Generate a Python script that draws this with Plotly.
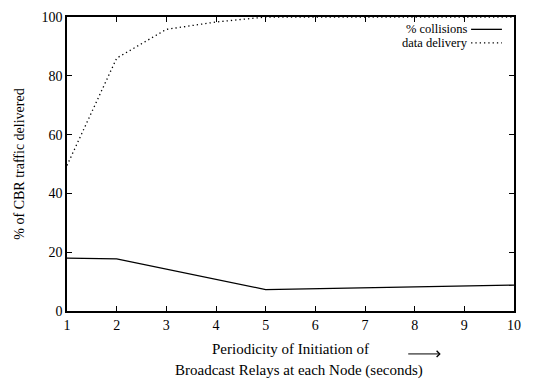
import plotly.graph_objects as go

# Periodicity of broadcast relay initiation (seconds)
delivery_x = [1, 2, 3, 4, 5, 6, 7, 8, 9, 10]
delivery_pct = [49.5, 86.0, 95.8, 98.3, 100, 100, 100, 100, 100, 100]

collision_x = [1, 2, 5, 10]
collision_pct = [18.0, 17.7, 7.3, 8.8]

x_ticks = [1, 2, 3, 4, 5, 6, 7, 8, 9, 10]
y_ticks = [0, 20, 40, 60, 80, 100]

FONT = "Liberation Serif"

fig = go.Figure()
fig.add_trace(go.Scatter(x=collision_x, y=collision_pct, mode="lines",
                         line=dict(color="black", width=1.3),
                         name="% collisions", showlegend=False))
fig.add_trace(go.Scatter(x=delivery_x, y=delivery_pct, mode="lines",
                         line=dict(color="black", width=1.3, dash="1.3px,3px"),
                         name="data delivery", showlegend=False))

axis_common = dict(showgrid=False, zeroline=False, showline=True, mirror="allticks",
                   linecolor="black", linewidth=1.5, ticks="inside", ticklen=5,
                   tickcolor="black", tickwidth=1,
                   tickfont=dict(family=FONT, size=14, color="black"))

fig.update_xaxes(range=[1, 10], tickvals=x_ticks, **axis_common)
fig.update_yaxes(range=[0, 100], tickvals=y_ticks,
                 title=dict(text="% of CBR traffic delivered",
                            font=dict(family=FONT, size=14, color="black"),
                            standoff=14),
                 **axis_common)

# Legend drawn gnuplot-style: label on the left, sample on the right
legend_items = [("% collisions", "solid", 0.958), ("data delivery", "1.3px,3px", 0.912)]
for label, dash, yy in legend_items:
    fig.add_annotation(x=0.893, y=yy, xref="paper", yref="paper", text=label,
                       showarrow=False, xanchor="right", yanchor="middle",
                       xshift=3, borderpad=0,
                       font=dict(family=FONT, size=12.5, color="black"))
    fig.add_shape(type="line", xref="paper", yref="paper", x0=0.904, x1=0.973,
                  y0=yy, y1=yy, line=dict(color="black", width=1.3, dash=dash))

# Two-line x axis caption with arrow
caption_lines = [("Periodicity of Initiation of", 0.499, -0.130),
                 ("Broadcast Relays at each Node (seconds)", 0.519, -0.203)]
for text, xx, yy in caption_lines:
    fig.add_annotation(x=xx, y=yy, xref="paper", yref="paper", text=text,
                       showarrow=False, xanchor="center", yanchor="middle",
                       font=dict(family=FONT, size=15, color="black"))
fig.add_annotation(x=0.836, y=-0.146, ax=0.76, ay=-0.146,
                   xref="x domain", yref="y domain", axref="x domain", ayref="y domain",
                   text="", showarrow=True, arrowhead=4, arrowsize=1.2, arrowwidth=1,
                   arrowcolor="black")

fig.update_layout(width=544, height=383, margin=dict(l=67, r=30, t=10, b=72),
                  plot_bgcolor="white", paper_bgcolor="white",
                  font=dict(family=FONT, color="black"))

fig.write_html("out.html")
